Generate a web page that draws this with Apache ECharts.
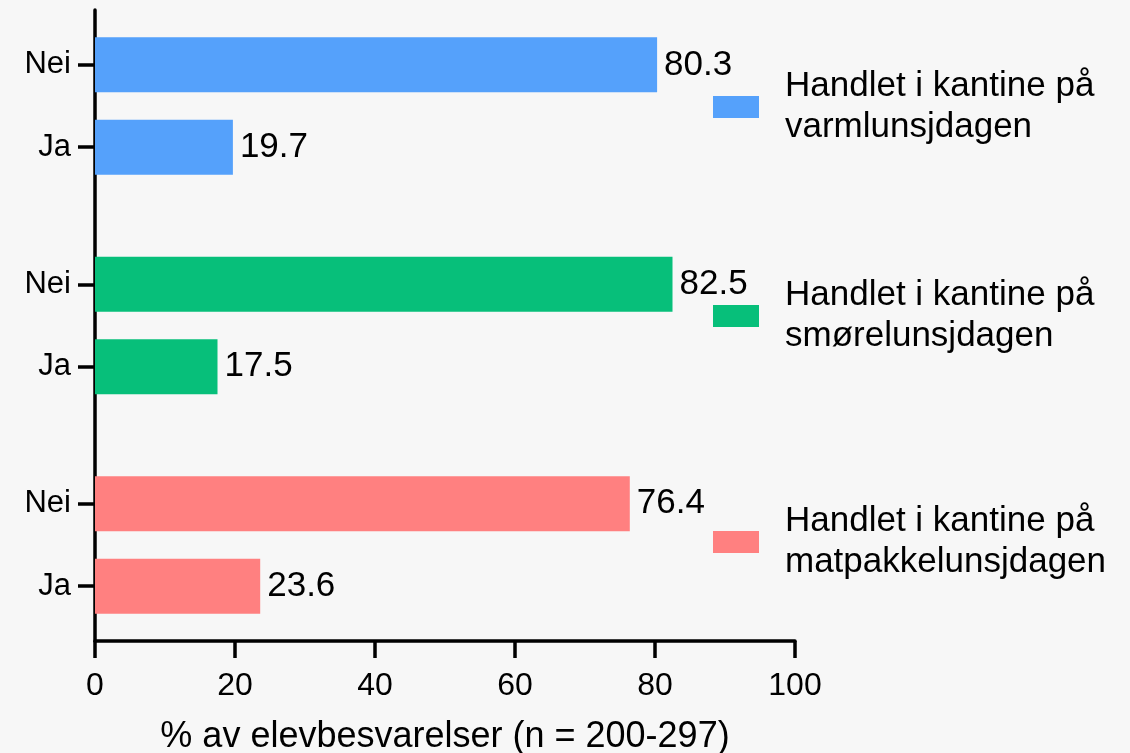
<!DOCTYPE html>
<html lang="no">
<head>
    <meta charset="UTF-8">
    <title>Handlet i kantine</title>
    <style>
        html, body { margin: 0; padding: 0; background: #f7f7f7; }
        #chart { width: 1130px; height: 753px; }
    </style>
</head>
<body>
<div id="chart"></div>

<script src="https://cdn.jsdelivr.net/npm/echarts@6/dist/echarts.min.js"></script>
<script>
    // data
    var answers = ['Nei', 'Ja'];
    var groups = ['varmlunsjdagen', 'smørelunsjdagen', 'matpakkelunsjdagen'];
    var neiValues = [80.3, 82.5, 76.4];
    var jaValues = [19.7, 17.5, 23.6];
    var xTicks = [0, 20, 40, 60, 80, 100];

    var colors = ['#55a1fb', '#07bf7a', '#ff8080'];
    var FONT = '"Liberation Sans", Arial, Helvetica, sans-serif';

    // category slots: blank spacers give the uneven gap between groups
    var slots = [];
    var slotLabel = {};
    function blank() {
        var key = 'b' + slots.length;
        slots.push(key);
        slotLabel[key] = '';
    }
    var slotIndex = [];  // [group][answer] -> slot index
    blank(); blank();
    groups.forEach(function (g, i) {
        slotIndex[i] = [];
        answers.forEach(function (a, j) {
            if (j > 0) { blank(); blank(); }
            var key = 'g' + i + '-' + a;
            slotIndex[i][j] = slots.length;
            slots.push(key);
            slotLabel[key] = a;
        });
        if (i < groups.length - 1) { blank(); blank(); blank(); blank(); }
    });
    blank(); blank();

    function seriesName(i) {
        return 'Handlet i kantine på ' + groups[i];
    }

    var series = groups.map(function (g, i) {
        var data = slots.map(function () { return null; });
        data[slotIndex[i][0]] = neiValues[i];
        data[slotIndex[i][1]] = jaValues[i];
        return {
            name: seriesName(i),
            type: 'bar',
            data: data,
            barWidth: 55,
            barGap: '-100%',
            itemStyle: { color: colors[i] },
            label: {
                show: true,
                position: 'right',
                distance: 7,
                color: '#000',
                fontFamily: FONT,
                fontSize: 35
            }
        };
    });

    // legend entries sit beside each group
    var legendCenters = [107, 316, 542];
    var legends = groups.map(function (g, i) {
        return {
            data: [seriesName(i)],
            left: 713,
            top: legendCenters[i] - 41,
            orient: 'vertical',
            icon: 'rect',
            itemWidth: 46,
            itemHeight: 22,
            padding: 0,
            selectedMode: false,
            formatter: function (name) {
                return name.replace(' på ', ' på\n');
            },
            textStyle: {
                color: '#000',
                fontFamily: FONT,
                fontSize: 35,
                lineHeight: 41,
                padding: [0, 0, 0, 21]
            }
        };
    });

    function isAnswerSlot(index) {
        return slotLabel[slots[index]] !== '';
    }

    var myChart = echarts.init(document.getElementById('chart'));
    var option = {
        backgroundColor: '#f7f7f7',
        animation: false,
        textStyle: { fontFamily: FONT },
        grid: {
            left: 95, right: 335, top: 10, bottom: 112,
            containLabel: false,
            outerBoundsMode: 'none'
        },
        legend: legends,
        xAxis: {
            type: 'value',
            min: xTicks[0],
            max: xTicks[xTicks.length - 1],
            interval: xTicks[1] - xTicks[0],
            name: '% av elevbesvarelser (n = 200-297)',
            nameLocation: 'middle',
            nameGap: 78,
            nameTextStyle: { color: '#000', fontFamily: FONT, fontSize: 36 },
            axisLine: { show: true, lineStyle: { color: '#000', width: 3.5 } },
            axisTick: { show: true, length: 17, lineStyle: { color: '#000', width: 3.5 } },
            axisLabel: { color: '#000', fontFamily: FONT, fontSize: 32, margin: 29 },
            splitLine: { show: false }
        },
        yAxis: {
            type: 'category',
            data: slots,
            inverse: true,
            boundaryGap: false,
            axisLine: { show: true, lineStyle: { color: '#000', width: 3.5 } },
            axisTick: {
                show: true,
                length: 17,
                interval: function (index) { return isAnswerSlot(index); },
                lineStyle: { color: '#000', width: 3.5 }
            },
            axisLabel: {
                color: '#000',
                fontFamily: FONT,
                fontSize: 31,
                margin: 24,
                interval: function (index) { return isAnswerSlot(index); },
                formatter: function (value) { return slotLabel[value]; }
            },
            splitLine: { show: false }
        },
        series: series
    };
    myChart.setOption(option);
</script>
</body>
</html>
